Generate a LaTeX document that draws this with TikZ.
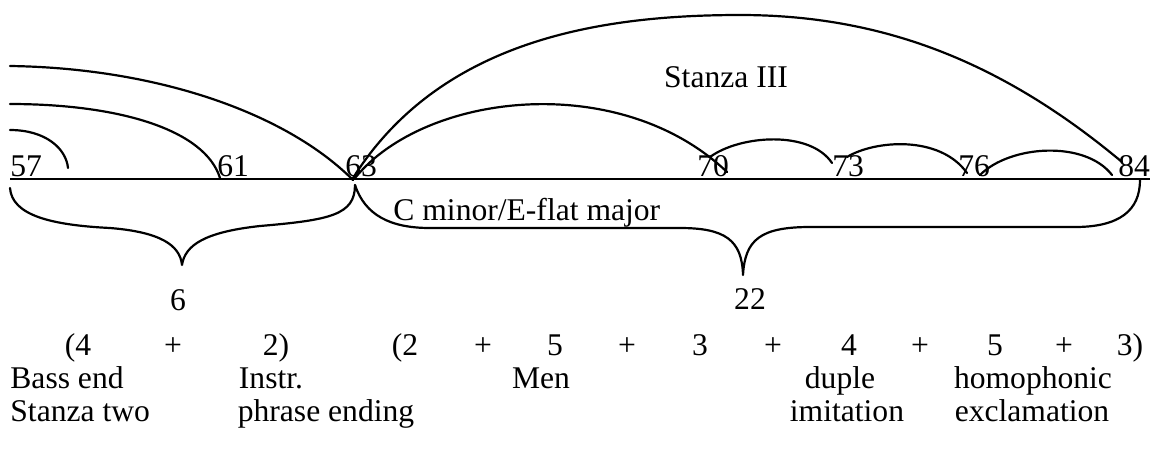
\documentclass[tikz,border=0pt]{standalone}
\usepackage{fontspec}
\setmainfont{Liberation Serif}
\usetikzlibrary{calc}

\begin{document}
\begin{tikzpicture}[
  x=0.5pt, y=-0.5pt,
  font=\fontsize{15.8}{19}\selectfont,
  bar/.style={anchor=base west,inner sep=0pt},
  lab/.style={anchor=base,inner sep=0pt},
  slur/.style={line width=1.1pt,line cap=round},
  brace/.style={line width=1.1pt,line join=round,line cap=round}
]
\useasboundingbox (0,0) rectangle (1157,462);
% time line and bar numbers
\coordinate (L0) at (10,179);
\coordinate (L1) at (1150,179);
\draw[line width=0.9pt] (L0) -- (L1);
\foreach \n/\x in {57/10,61/217,63/345,70/697,73/832,76/958,84/1118}{
  \node[bar] (b\n) at (\x,176) {\n};
}
% slurs coming in from the left
\coordinate (s57) at (10,130);
\coordinate (t57) at (68,168);
\coordinate (s61) at (10,104);
\coordinate (t61) at (220,178);
\coordinate (s63) at (10,66);
\coordinate (t63) at (353,180);
\draw[slur] (s57) .. controls (45,130) and (66,148) .. (t57);
\draw[slur] (s61) .. controls (120,104) and (205,130) .. (t61);
\draw[slur] (s63) .. controls (155,68) and (285,112) .. (t63);
% stanza III slurs
\coordinate (u63) at (353,178);
\coordinate (top) at (740,15);
\coordinate (u84) at (1122,162);
\draw[slur] (u63) .. controls (440,40) and (600,15) .. (top)
  .. controls (880,15) and (1000,60) .. (u84);
\coordinate (v63) at (355,178);
\coordinate (v70) at (727,172);
\draw[slur] (v63) .. controls (425,92) and (620,70) .. (v70);
\coordinate (w70) at (710,157);
\coordinate (w73) at (832,163);
\draw[slur] (w70) .. controls (740,135) and (810,130) .. (w73);
\coordinate (x73) at (847,157);
\coordinate (x76) at (967,173);
\draw[slur] (x73) .. controls (875,140) and (940,135) .. (x76);
\coordinate (y76) at (980,175);
\coordinate (y84) at (1112,175);
\draw[slur] (y76) .. controls (1010,145) and (1085,140) .. (y84);
\node[lab] (st3) at (726,87) {Stanza III};
% braces under the line
\coordinate (p57) at (10,188);
\coordinate (c6) at (182,265);
\coordinate (p63) at (355,185);
\draw[brace] (p57) .. controls (12,215) and (50,225) .. (110,228)
  .. controls (160,232) and (180,245) .. (c6)
  .. controls (185,245) and (205,232) .. (260,226)
  .. controls (330,220) and (355,215) .. (p63);
\coordinate (c22) at (743,275);
\coordinate (p84) at (1140,180);
\draw[brace] (p63) .. controls (365,215) and (390,228) .. (430,228) -- (680,228)
  .. controls (725,228) and (742,240) .. (c22)
  .. controls (745,240) and (760,227) .. (810,227) -- (1075,227)
  .. controls (1120,227) and (1140,210) .. (p84);
\node[bar] (key) at (393,220) {C minor/E-flat major};
\node[lab] (n6) at (178,310) {6};
\node[lab] (n22) at (750,309) {22};
% phrase lengths
\foreach \t/\x [count=\i] in {{(4}/78,{+}/173,{2)}/276,{(2}/405,{+}/483,{5}/555,
    {+}/627,{3}/700,{+}/773,{4}/849,{+}/920,{5}/995,{+}/1064,{3)}/1130}{
  \node[lab] (q\i) at (\x,355) {\t};
}
% descriptions
\node[bar] (d1) at (10,388) {Bass end};
\node[bar] (d2) at (10,421) {Stanza two};
\node[lab] (d3) at (271,388) {Instr.};
\node[lab] (d4) at (326,421) {phrase ending};
\node[lab] (d5) at (541,388) {Men};
\node[lab] (d6) at (840,388) {duple};
\node[lab] (d7) at (847,421) {imitation};
\node[lab] (d8) at (1033,388) {homophonic};
\node[lab] (d9) at (1032,421) {exclamation};
\end{tikzpicture}
\end{document}
